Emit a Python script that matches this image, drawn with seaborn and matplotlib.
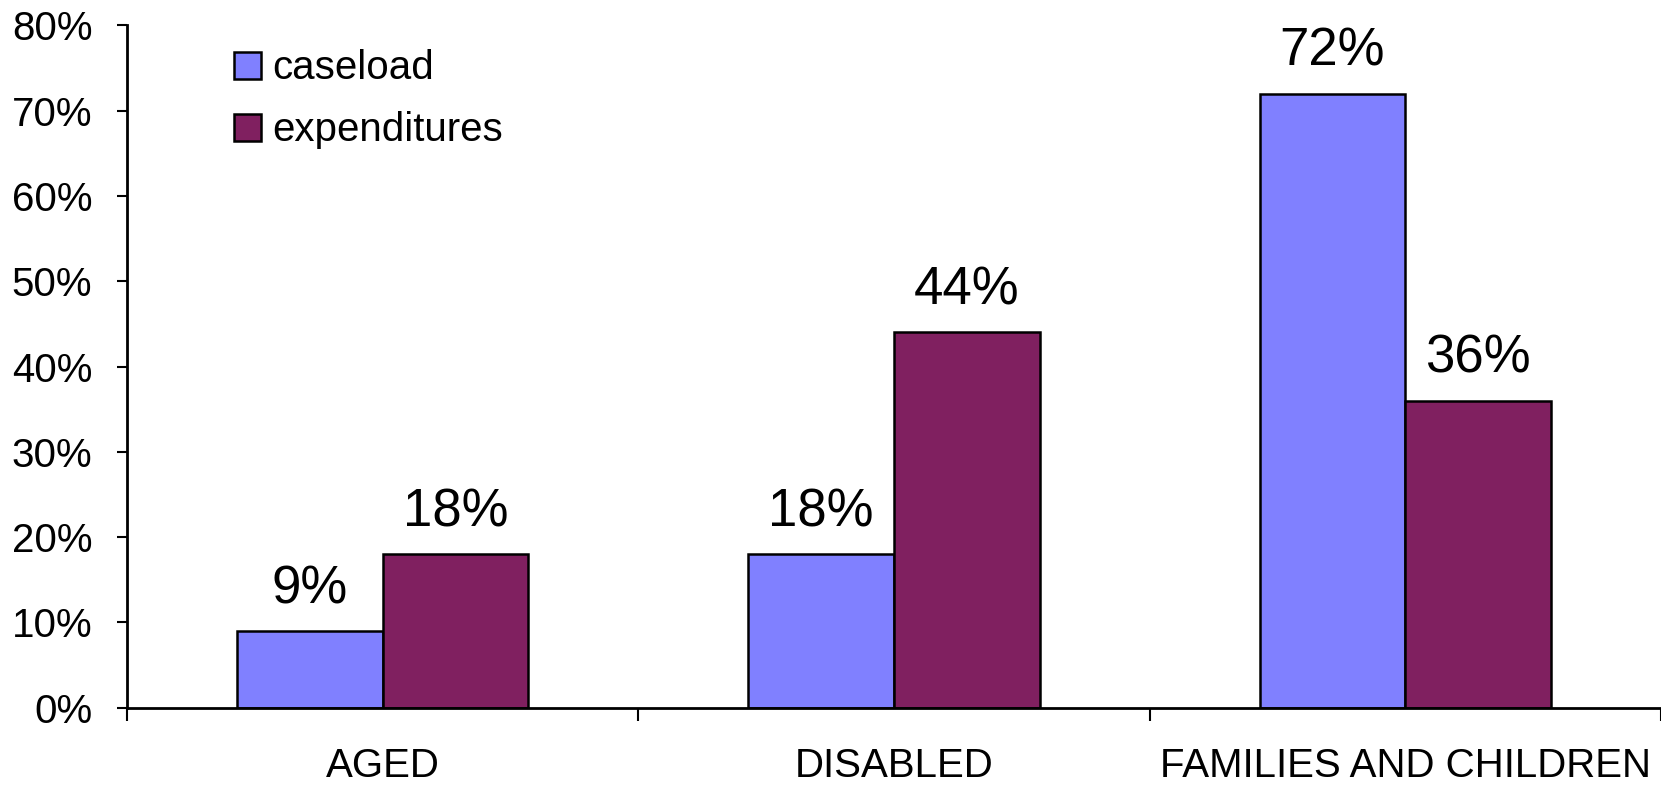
import pandas as pd
import matplotlib
matplotlib.use("Agg")
import matplotlib.pyplot as plt
import seaborn as sns
from matplotlib.ticker import FuncFormatter, FixedLocator

categories = ["AGED", "DISABLED", "FAMILIES AND CHILDREN"]
caseload = [9, 18, 72]
expenditures = [18, 44, 36]
series_names = ["caseload", "expenditures"]
colors = ["#8080FF", "#802060"]

df = pd.DataFrame({
    "category": categories * 2,
    "value": caseload + expenditures,
    "series": [series_names[0]] * 3 + [series_names[1]] * 3,
})

sns.set_style("white")
plt.rcParams["font.family"] = ["Liberation Sans", "DejaVu Sans"]
plt.rcParams["text.color"] = "black"
plt.rcParams["xtick.color"] = "black"
plt.rcParams["ytick.color"] = "black"

fig = plt.figure(figsize=(16.61, 7.86), dpi=100)
ax = fig.add_axes([0.0765, 0.0997, 0.9235, 0.868])

sns.barplot(data=df, x="category", y="value", hue="series", palette=colors,
            width=0.57, edgecolor="black", linewidth=1.8, saturation=1, ax=ax)

for cont in ax.containers:
    ax.bar_label(cont, fmt="%.0f%%", padding=12, fontsize=38, color="black")

ax.set_ylim(0, 80)
ax.set_xlim(-0.5, 2.5)
ax.set_yticks(range(0, 81, 10))
ax.yaxis.set_major_formatter(FuncFormatter(lambda v, p: f"{v:.0f}%"))
ax.xaxis.set_minor_locator(FixedLocator([-0.5, 0.5, 1.5, 2.5]))
ax.tick_params(axis="y", which="major", direction="out", length=7, width=1.5,
               pad=18, labelsize=29, left=True)
ax.tick_params(axis="x", which="major", length=0, pad=28, labelsize=29)
ax.tick_params(axis="x", which="minor", direction="out", length=9, width=1.5,
               bottom=True)
ax.set_xlabel("")
ax.set_ylabel("")

for s in ["top", "right"]:
    ax.spines[s].set_visible(False)
for s in ["left", "bottom"]:
    ax.spines[s].set_color("black")
    ax.spines[s].set_linewidth(2)

ax.legend(loc="upper left", bbox_to_anchor=(0.07, 0.965), frameon=False,
          fontsize=29, handlelength=0.65, handleheight=0.65, handletextpad=0.3,
          labelspacing=0.6, borderpad=0, borderaxespad=0)

fig.savefig("out.png", dpi=100)
